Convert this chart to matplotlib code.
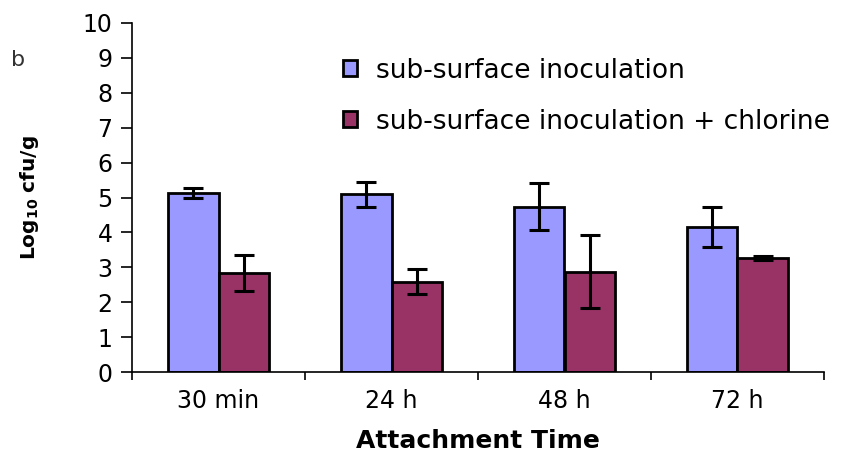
import matplotlib
matplotlib.use("Agg")
import matplotlib.pyplot as plt
import numpy as np

categories = ["30 min", "24 h", "48 h", "72 h"]
sub_surface = [5.13, 5.09, 4.74, 4.16]
sub_surface_err = [0.15, 0.36, 0.68, 0.58]
chlorine = [2.83, 2.59, 2.87, 3.26]
chlorine_err = [0.52, 0.36, 1.05, 0.06]
labels = ["sub-surface inoculation", "sub-surface inoculation + chlorine"]

plt.rcParams['font.family'] = ['DejaVu Sans']

W, H = 854, 458
fig = plt.figure(figsize=(W / 100, H / 100), dpi=100)
ax = fig.add_axes([132 / W, 1 - 372 / H, (824 - 132) / W, (372 - 23) / H])

x = np.arange(len(categories))
bw = 0.29
ekw = dict(ecolor="black", elinewidth=2.2, capsize=7.5, capthick=2.2)
ax.bar(x - bw / 2, sub_surface, bw, color="#9999FF", edgecolor="black", linewidth=2,
       yerr=sub_surface_err, error_kw=ekw, label=labels[0], zorder=2)
ax.bar(x + bw / 2, chlorine, bw, color="#993366", edgecolor="black", linewidth=2,
       yerr=chlorine_err, error_kw=ekw, label=labels[1], zorder=2)

ax.set_xlim(-0.5, len(categories) - 0.5)
ax.set_ylim(0, 10)
ax.set_yticks(range(0, 11))
ax.set_xticks(x)
ax.set_xticklabels(categories, fontsize=17)
ax.set_xticks(np.arange(len(categories) + 1) - 0.5, minor=True)
ax.tick_params(axis="x", which="major", length=0, pad=12)
ax.tick_params(axis="x", which="minor", length=6, width=1.2, direction="out")
ax.tick_params(axis="y", length=8, width=1.2, labelsize=17, pad=6)
ax.spines["top"].set_visible(False)
ax.spines["right"].set_visible(False)
ax.spines["left"].set_linewidth(1.2)
ax.spines["bottom"].set_linewidth(1.2)

ax.set_ylabel(r"$\mathbf{Log_{10}\ cfu/g}$", fontsize=14.5, labelpad=30)
ax.set_xlabel("Attachment Time", fontsize=18, fontweight="bold", labelpad=12)

leg = ax.legend(loc="upper left", bbox_to_anchor=(200 / (824 - 132), 1 - 24 / 349),
                frameon=False, fontsize=19, handlelength=0.55, handleheight=0.55,
                handletextpad=0.7, labelspacing=0.95, borderaxespad=0)

fig.text(18 / W, 1 - 60 / H, "b", fontsize=16, ha="center", va="center", color="#333333")

fig.savefig("out.png", dpi=100)
